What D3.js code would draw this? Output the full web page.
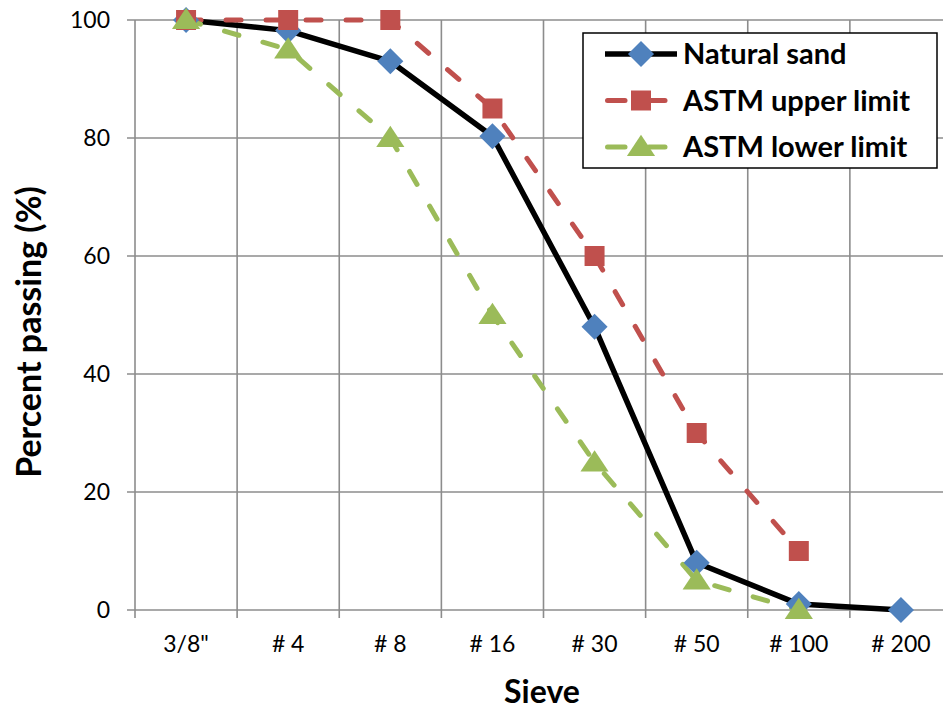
<!DOCTYPE html>
<html><head><meta charset="utf-8">
<script src="https://cdn.jsdelivr.net/npm/d3@7"></script>
<style>body{margin:0;background:#fff;} svg{display:block;}</style>
</head><body>
<svg id="c" width="943" height="710"></svg>
<script>
const categories = ['3/8"', "# 4", "# 8", "# 16", "# 30", "# 50", "# 100", "# 200"];
const naturalSand = [100, 98.2, 93, 80.3, 48, 8, 1, 0];
const astmUpper = [100, 100, 100, 85, 60, 30, 10];
const astmLower = [100, 95, 80, 50, 25, 5, 0];
const yTicks = [0, 20, 40, 60, 80, 100];

const font = "Lato, 'Open Sans', sans-serif";
const svg = d3.select("#c");
const L = 135, R = 952, T = 20, B = 610;
const x = d3.scaleBand().domain(categories).range([L, R]);
const y = d3.scaleLinear().domain([0, 100]).range([B, T]);
const cx = c => x(c) + x.bandwidth() / 2;
const grid = "#8c8c8c";

// horizontal gridlines
svg.append("g").selectAll("line").data(yTicks).join("line")
  .attr("x1", L - 8).attr("x2", R).attr("y1", d => y(d)).attr("y2", d => y(d))
  .attr("stroke", grid).attr("stroke-width", 1.6);
// vertical gridlines / ticks at band boundaries
const bounds = categories.map(c => x(c)).concat([R]);
svg.append("g").selectAll("line").data(bounds).join("line")
  .attr("x1", d => d).attr("x2", d => d).attr("y1", T).attr("y2", B + 8)
  .attr("stroke", grid).attr("stroke-width", 1.6);

// y tick labels
svg.append("g").selectAll("text").data(yTicks).join("text")
  .attr("x", 110).attr("y", d => y(d)).attr("dy", "0.35em").attr("text-anchor", "end")
  .attr("font-family", font).attr("font-size", 23).attr("fill", "#000").text(d => d);
// x tick labels
svg.append("g").selectAll("text").data(categories).join("text")
  .attr("x", d => cx(d)).attr("y", 644).attr("dy", "0.35em").attr("text-anchor", "middle")
  .attr("font-family", font).attr("font-size", 23).attr("fill", "#000").text(d => d);

// axis titles
svg.append("text").attr("x", 542).attr("y", 703).attr("text-anchor", "middle")
  .attr("font-family", font).attr("font-size", 32).attr("font-weight", "bold").text("Sieve");
svg.append("text").attr("transform", "translate(29,332) rotate(-90)").attr("dy", "0.35em")
  .attr("text-anchor", "middle").attr("font-family", font).attr("font-size", 34)
  .attr("font-weight", "bold").text("Percent passing (%)");

const series = [
  {name: "Natural sand", values: naturalSand, color: "#000000", mcolor: "#4F81BD", dash: null, width: 5.5, shape: "diamond", size: 340},
  {name: "ASTM upper limit", values: astmUpper, color: "#C0504D", mcolor: "#C0504D", dash: "15,25", width: 5, shape: "square", size: 400},
  {name: "ASTM lower limit", values: astmLower, color: "#9BBB59", mcolor: "#9BBB59", dash: "15,25", width: 5, shape: "triangle", size: 260}
];
const line = d3.line().x(d => cx(d.c)).y(d => y(d.v));
function marker(sel, s) {
  const type = s.shape === "triangle" ? d3.symbolTriangle : d3.symbolSquare;
  return sel.attr("d", d3.symbol().type(type).size(s.size)).attr("fill", s.mcolor);
}
const rot = s => s.shape === "diamond" ? " rotate(45)" : (s.shape === "triangle" ? " translate(0,2) scale(1.15,1)" : "");

series.forEach(s => {
  const pts = s.values.map((v, i) => ({c: categories[i], v}));
  svg.append("path").datum(pts).attr("d", line).attr("fill", "none")
    .attr("stroke", s.color).attr("stroke-width", s.width)
    .attr("stroke-dasharray", s.dash).attr("stroke-linecap", s.dash ? "round" : "butt")
    .attr("stroke-linejoin", "round");
});
series.forEach(s => {
  const pts = s.values.map((v, i) => ({c: categories[i], v}));
  svg.append("g").selectAll("path").data(pts).join("path")
    .attr("transform", d => `translate(${cx(d.c)},${y(d.v)})` + rot(s))
    .call(marker, s);
});

// legend
const lg = svg.append("g");
lg.append("rect").attr("x", 583).attr("y", 33).attr("width", 354).attr("height", 135)
  .attr("fill", "#fff").attr("stroke", "#000").attr("stroke-width", 1.5);
series.forEach((s, i) => {
  const yy = 54 + i * 46.5;
  if (s.dash) {
    [[607.5, 625], [649, 665]].forEach(([a, b]) => {
      lg.append("line").attr("x1", a).attr("x2", b).attr("y1", yy).attr("y2", yy)
        .attr("stroke", s.color).attr("stroke-width", s.width).attr("stroke-linecap", "round");
    });
  } else {
    lg.append("line").attr("x1", 605).attr("x2", 677).attr("y1", yy).attr("y2", yy)
      .attr("stroke", s.color).attr("stroke-width", s.width);
  }
  lg.append("path").attr("transform", `translate(641,${yy})` + rot(s)).call(marker, s);
  lg.append("text").attr("x", 683).attr("y", yy).attr("dy", "0.35em")
    .attr("font-family", font).attr("font-size", 29).attr("font-weight", "bold").text(s.name);
});
</script>
</body></html>
